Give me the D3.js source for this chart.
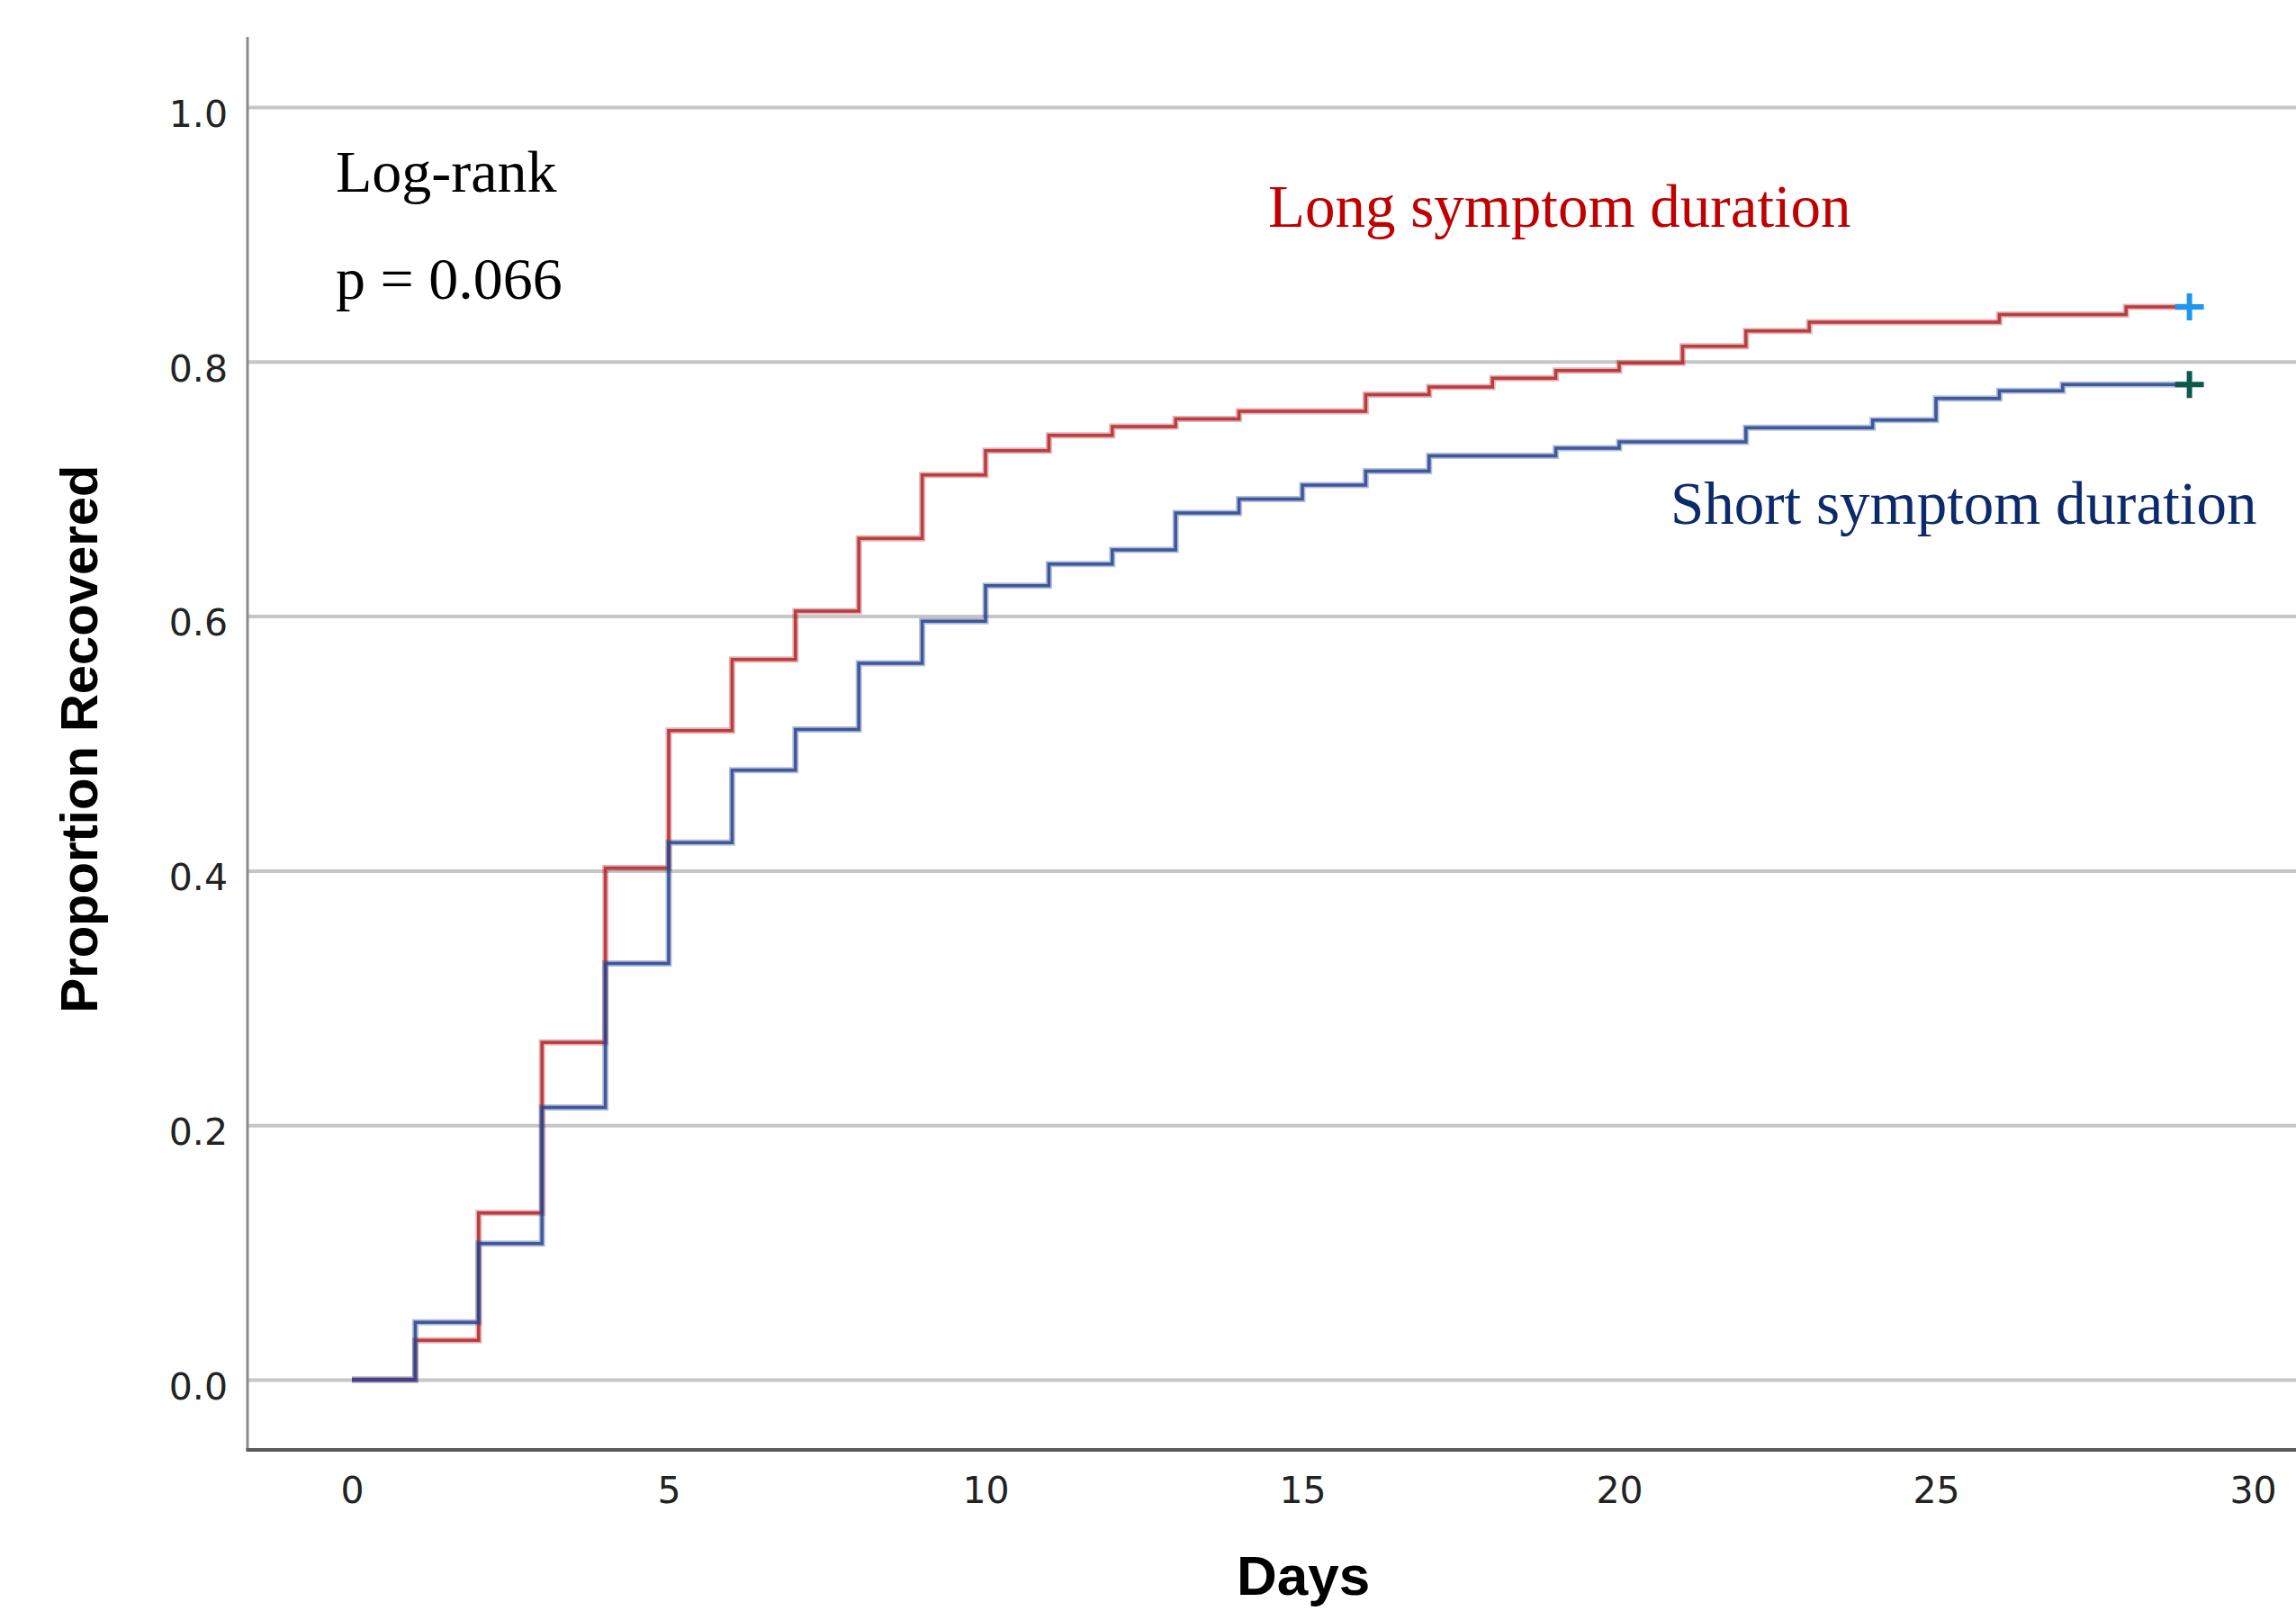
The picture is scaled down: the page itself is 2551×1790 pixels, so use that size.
<!DOCTYPE html>
<html>
<head>
<meta charset="utf-8">
<script src="https://cdn.jsdelivr.net/npm/d3@7"></script>
<style>
  html, body { margin: 0; padding: 0; background: #fff; }
  svg { display: block; }
</style>
</head>
<body>
<div id="chart"></div>
<script>
(function() {
    /********************************************
     * DATA
     ********************************************/
    const longDays  = [0, 1, 2, 3, 4, 5, 6, 7, 8, 9, 10, 11, 12, 13, 14, 16, 17, 18, 19, 20, 21, 22, 23, 26, 28];
    const longVals  = [0, 0.031, 0.131, 0.265, 0.402, 0.510, 0.566, 0.604, 0.661, 0.711, 0.730, 0.742, 0.749,
                       0.755, 0.761, 0.774, 0.780, 0.787, 0.793, 0.799, 0.812, 0.824, 0.831, 0.837, 0.843];

    const shortDays = [0, 1, 2, 3, 4, 5, 6, 7, 8, 9, 10, 11, 12, 13, 14, 15, 16, 17, 19, 20, 22, 24, 25, 26, 27];
    const shortVals = [0, 0.045, 0.107, 0.214, 0.327, 0.422, 0.479, 0.511, 0.563, 0.596, 0.624, 0.641, 0.652,
                       0.681, 0.692, 0.703, 0.714, 0.726, 0.732, 0.737, 0.748, 0.754, 0.771, 0.777, 0.782];

    const lastDay = 29;
    const xTicks = [0, 5, 10, 15, 20, 25, 30];
    const yTicks = [0, 0.2, 0.4, 0.6, 0.8, 1.0];

    /********************************************
     * LAYOUT
     ********************************************/
    const width = 2551;
    const height = 1790;
    const axisLeftX = 275;
    const axisBottomY = 1611;
    const axisTopY = 41;

    const x = d3.scaleLinear().domain([0, 30]).range([391, 2503]);
    const y = d3.scaleLinear().domain([0, 1]).range([1533, 119]);

    const svg = d3.select("#chart").append("svg")
        .attr("width", width)
        .attr("height", height);

    svg.append("rect").attr("width", width).attr("height", height).attr("fill", "#fff");

    // gridlines + y labels
    const yAxis = d3.axisLeft(y)
        .tickValues(yTicks)
        .tickSize(-(width - axisLeftX))
        .tickPadding(22)
        .tickFormat(d3.format(".1f"));

    const gy = svg.append("g")
        .attr("transform", `translate(${axisLeftX},0)`)
        .call(yAxis);
    gy.select(".domain").remove();
    gy.selectAll(".tick line")
        .attr("stroke", "#c6c6c6")
        .attr("stroke-width", 4);
    gy.selectAll(".tick text")
        .attr("fill", "#222")
        .attr("dy", "0.52em")
        .style("font-family", "'DejaVu Sans', sans-serif")
        .style("font-size", "41px");

    // x axis
    const xAxis = d3.axisBottom(x)
        .tickValues(xTicks)
        .tickSize(0)
        .tickPadding(30)
        .tickFormat(d3.format("d"));

    const gx = svg.append("g")
        .attr("transform", `translate(0,${axisBottomY})`)
        .call(xAxis);
    gx.select(".domain").remove();
    gx.selectAll(".tick text")
        .attr("fill", "#222")
        .style("font-family", "'DejaVu Sans', sans-serif")
        .style("font-size", "41px");

    // axis lines
    svg.append("line")
        .attr("x1", axisLeftX).attr("x2", axisLeftX)
        .attr("y1", axisTopY).attr("y2", axisBottomY)
        .attr("stroke", "#8c8c8c").attr("stroke-width", 3);
    svg.append("line")
        .attr("x1", axisLeftX - 1.5).attr("x2", width)
        .attr("y1", axisBottomY).attr("y2", axisBottomY)
        .attr("stroke", "#5a5a5a").attr("stroke-width", 4);

    /********************************************
     * CURVES
     ********************************************/
    const line = d3.line()
        .x(d => x(d[0]))
        .y(d => y(d[1]))
        .curve(d3.curveStepAfter);

    function toSteps(days, vals) {
        const pts = days.map((d, i) => [d, vals[i]]);
        pts.push([lastDay, vals[vals.length - 1]]);
        return pts;
    }

    const series = [
        { name: "long", pts: toSteps(longDays, longVals), color: "#b3282b", censor: "#1e96ec" },
        { name: "short", pts: toSteps(shortDays, shortVals), color: "#284690", censor: "#0b5a4c" }
    ];

    series.forEach(s => {
        svg.append("path")
            .datum(s.pts)
            .attr("fill", "none")
            .attr("stroke", s.color)
            .attr("stroke-opacity", 0.35)
            .attr("stroke-width", 7)
            .attr("d", line);
        svg.append("path")
            .datum(s.pts)
            .attr("fill", "none")
            .attr("stroke", s.color)
            .attr("stroke-opacity", 0.85)
            .attr("stroke-width", 3.5)
            .attr("d", line);
    });

    // censor marks
    series.forEach(s => {
        const last = s.pts[s.pts.length - 1];
        const cx = x(last[0]), cy = y(last[1]);
        const g = svg.append("g").attr("stroke", s.censor).attr("stroke-width", 6);
        g.append("line").attr("x1", cx - 16).attr("x2", cx + 16).attr("y1", cy).attr("y2", cy);
        g.append("line").attr("x1", cx).attr("x2", cx).attr("y1", cy - 15).attr("y2", cy + 15);
    });

    /********************************************
     * TEXT
     ********************************************/
    const serif = "'Liberation Serif', 'Times New Roman', serif";

    svg.append("text")
        .attr("x", 373).attr("y", 213)
        .style("font-family", serif).style("font-size", "66px")
        .attr("fill", "#000")
        .text("Log-rank");

    svg.append("text")
        .attr("x", 373).attr("y", 332)
        .style("font-family", serif).style("font-size", "66px")
        .attr("fill", "#000")
        .text("p = 0.066");

    svg.append("text")
        .attr("x", 1409).attr("y", 252)
        .style("font-family", serif).style("font-size", "67px")
        .attr("fill", "#c00000")
        .text("Long symptom duration");

    svg.append("text")
        .attr("x", 1856).attr("y", 582)
        .style("font-family", serif).style("font-size", "67px")
        .attr("fill", "#0c2a6b")
        .text("Short symptom duration");

    svg.append("text")
        .attr("transform", "translate(108,821) rotate(-90)")
        .attr("text-anchor", "middle")
        .style("font-family", "'Liberation Sans', Arial, sans-serif")
        .style("font-weight", "bold")
        .style("font-size", "58px")
        .attr("fill", "#000")
        .text("Proportion Recovered");

    svg.append("text")
        .attr("x", 1448).attr("y", 1772)
        .attr("text-anchor", "middle")
        .style("font-family", "'Liberation Sans', Arial, sans-serif")
        .style("font-weight", "bold")
        .style("font-size", "62px")
        .attr("fill", "#000")
        .text("Days");
})();
</script>
</body>
</html>
